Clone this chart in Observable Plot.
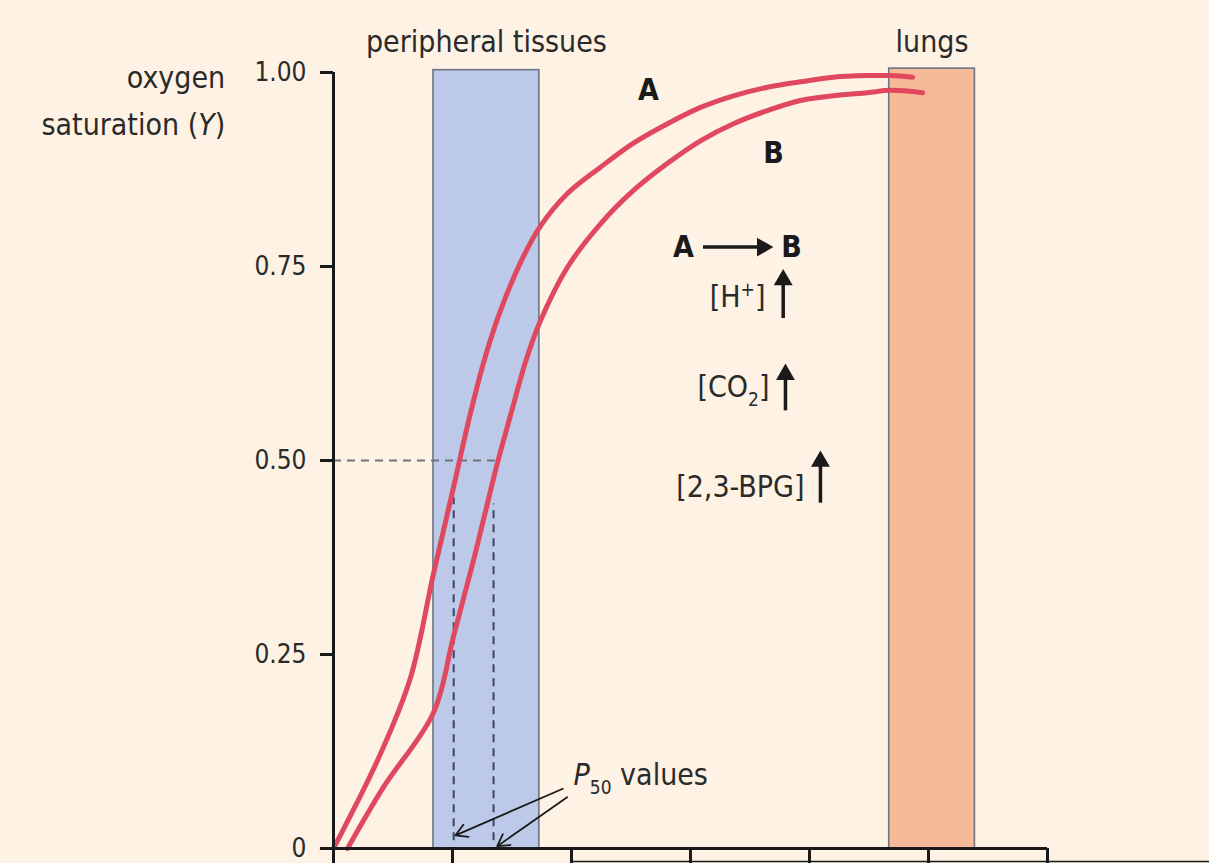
<!DOCTYPE html>
<html><head><meta charset="utf-8">
<script src="https://cdn.jsdelivr.net/npm/d3@7"></script>
<script src="https://cdn.jsdelivr.net/npm/@observablehq/plot@0.6"></script>
<style>html,body{margin:0;padding:0;background:#FDF2E3;overflow:hidden}</style>
</head><body><div id="chart"></div>
<script>
// Curve A (higher O2 affinity)
const pO2A = [0, 0.395, 0.647, 0.840, 1.008, 1.126, 1.261, 1.403, 1.571, 1.739, 1.966, 2.244, 2.521, 2.807, 3.084, 3.361, 3.647, 3.924, 4.202, 4.487, 4.681, 4.866];
const satA = [0, 0.122, 0.220, 0.354, 0.465, 0.545, 0.626, 0.693, 0.755, 0.802, 0.844, 0.878, 0.909, 0.934, 0.955, 0.970, 0.981, 0.988, 0.994, 0.996, 0.996, 0.994];
// Curve B (lower O2 affinity)
const pO2B = [0.118, 0.420, 0.840, 1.008, 1.176, 1.378, 1.487, 1.622, 1.739, 1.966, 2.244, 2.521, 2.807, 3.084, 3.361, 3.647, 3.924, 4.202, 4.487, 4.681, 4.950];
const satB = [0, 0.079, 0.175, 0.273, 0.371, 0.497, 0.558, 0.631, 0.680, 0.749, 0.805, 0.848, 0.883, 0.912, 0.934, 0.951, 0.964, 0.970, 0.974, 0.977, 0.974];

const xTicks = [0, 1, 2, 3, 4, 5, 6];
const yTicks = [0, 0.25, 0.5, 0.75, 1];
const yTickLabels = ["0", "0.25", "0.50", "0.75", "1.00"];

const regionNames = ["peripheral tissues", "lungs"];
const regionStart = [0.84, 4.67];
const regionEnd = [1.73, 5.39];
const regionTop = [1.003, 1.005];
const regionLabelY = 1.039;

const p50X = [1.01, 1.345];
const p50Top = [0.452, 0.444];
const halfSat = 0.5;
const halfSatEnd = 1.36;

const curveLabels = ["A", "B"];
const curveLabelX = [2.647, 3.697];
const curveLabelY = [0.977, 0.896];

const shiftLabels = ["A", "B"];
const shiftLabelX = [2.941, 3.849];
const shiftY = 0.775;
const shiftArrowX = [3.109, 3.697];

const factors = ["[H+]", "[CO2]", "[2,3-BPG]"];
const factorEndX = [3.630, 3.664, 3.958];
const factorY = [0.710, 0.594, 0.465];
const factorArrowX = [3.779, 3.798, 4.092];
const factorArrowY1 = [0.683, 0.564, 0.445];
const factorArrowY2 = [0.747, 0.625, 0.513];

const p50Label = {text: "P50 values", x: 2.017, y: 0.094};
const p50ArrowX1 = [1.927, 1.963];
const p50ArrowY1 = [0.077, 0.066];
const p50ArrowX2 = [1.025, 1.376];
const p50ArrowY2 = [0.017, 0.003];

const yLabelLines = ["oxygen", "saturation (Y)"];
const yLabelX = -0.91;
const yLabelY = [0.992, 0.932];

// build tables
const curves = [
  ...pO2A.map((x, i) => ({series: "A", x, y: satA[i]})),
  ...pO2B.map((x, i) => ({series: "B", x, y: satB[i]}))
];
const regions = regionNames.map((name, i) => ({name, x1: regionStart[i], x2: regionEnd[i], top: regionTop[i]}));
const p50s = p50X.map((x, i) => ({x, top: p50Top[i]}));
const curveLab = curveLabels.map((t, i) => ({t, x: curveLabelX[i], y: curveLabelY[i]}));
const shiftLab = shiftLabels.map((t, i) => ({t, x: shiftLabelX[i], y: shiftY}));
const factorRows = factors.map((t, i) => ({t, x: factorEndX[i], y: factorY[i], ax: factorArrowX[i], ay1: factorArrowY1[i], ay2: factorArrowY2[i]}));
const p50Arrows = p50ArrowX1.map((x1, i) => ({x1, y1: p50ArrowY1[i], x2: p50ArrowX2[i], y2: p50ArrowY2[i]}));
const yLab = yLabelLines.map((t, i) => ({t, y: yLabelY[i]}));

const red = "#E0485F";
const ink = "#1a1a1a";
const txt = "#2a2a2a";
const dashH = "#70737c";
const dashV = "#3e4560";
const labelSize = 30;
const headGapY = 0.012; // leave room under the filled arrow head
const headGapX = 0.09;

const plot = Plot.plot({
  width: 1209,
  height: 863,
  marginLeft: 333,
  marginRight: 162,
  marginTop: 72,
  marginBottom: 15,
  style: {background: "#FDF2E3", fontFamily: "'DejaVu Sans Condensed', 'DejaVu Sans', sans-serif", fontSize: "26px", color: ink},
  x: {domain: [0, 6], axis: null},
  y: {domain: [0, 1]},
  color: {domain: regionNames, range: ["#BCC9E8", "#F6BA98"]},
  marks: [
    Plot.rect(regions, {x1: "x1", x2: "x2", y1: 0, y2: "top", fill: "name", stroke: "#6e7480", strokeWidth: 1.6}),
    Plot.text(regions, {x: d => (d.x1 + d.x2) / 2, y: regionLabelY, text: "name", fill: txt, fontSize: labelSize}),
    Plot.ruleY([halfSat], {x1: 0, x2: halfSatEnd, stroke: dashH, strokeWidth: 2, strokeDasharray: "8,6"}),
    Plot.ruleX(p50s, {x: "x", y1: 0.01, y2: "top", stroke: dashV, strokeWidth: 2, strokeDasharray: "8,6"}),
    Plot.line(curves, {x: "x", y: "y", z: "series", stroke: red, strokeWidth: 5, curve: "catmull-rom"}),
    Plot.ruleX([0], {y1: 0, y2: 1, stroke: ink, strokeWidth: 3}),
    Plot.ruleY([0], {x1: -0.11, x2: 6, stroke: ink, strokeWidth: 3}),
    Plot.ruleX(xTicks, {x: d => d, y1: 0, y2: -0.03, stroke: ink, strokeWidth: 3}),
    Plot.ruleY([-0.0168], {x1: 2.0, x2: 7.4, stroke: ink, strokeWidth: 1.5}),
    Plot.axisY(yTicks, {tickSize: 13, tickPadding: 14, strokeWidth: 3, stroke: ink, label: null, fill: txt,
      tickFormat: d => yTickLabels[yTicks.indexOf(d)]}),
    Plot.text(yLab, {x: yLabelX, y: "y", text: "t", textAnchor: "end", fill: txt, fontSize: labelSize}),
    Plot.text(curveLab, {x: "x", y: "y", text: "t", fontWeight: "bold", fontSize: 30, fill: ink}),
    Plot.text(shiftLab, {x: "x", y: "y", text: "t", fontWeight: "bold", fontSize: 30, fill: ink}),
    // A -> B arrow: shaft + filled head
    Plot.ruleY([shiftY], {x1: shiftArrowX[0], x2: shiftArrowX[1] - headGapX, stroke: ink, strokeWidth: 3.5}),
    Plot.dot([shiftY], {x: shiftArrowX[1], y: d => d, symbol: "triangle", r: 7, fill: ink, stroke: "none", rotate: 90, dx: -11}),
    Plot.text(factorRows, {x: "x", y: "y", text: "t", textAnchor: "end", fill: txt, fontSize: labelSize}),
    // up arrows: shaft + filled head
    Plot.ruleX(factorRows, {x: "ax", y1: "ay1", y2: d => d.ay2 - headGapY, stroke: ink, strokeWidth: 3.5}),
    Plot.dot(factorRows, {x: "ax", y: "ay2", symbol: "triangle", r: 7, fill: ink, stroke: "none", dy: 11}),
    Plot.text([p50Label], {x: "x", y: "y", text: "text", textAnchor: "start", fill: txt, fontSize: labelSize}),
    Plot.arrow(p50Arrows, {x1: "x1", y1: "y1", x2: "x2", y2: "y2", stroke: ink, strokeWidth: 1.8, headLength: 11})
  ]
});

plot.querySelectorAll("text").forEach(t => {
  const s = t.textContent;
  if (s === "saturation (Y)") t.innerHTML = 'saturation (<tspan font-style="italic">Y</tspan>)';
  else if (s === "[H+]") t.innerHTML = '[H<tspan dy="-11" font-size="19">+</tspan><tspan dy="11">]</tspan>';
  else if (s === "[CO2]") t.innerHTML = '[CO<tspan dy="9" font-size="19">2</tspan><tspan dy="-9">]</tspan>';
  else if (s === "P50 values") t.innerHTML = '<tspan font-style="italic">P</tspan><tspan dy="9" font-size="19">50</tspan><tspan dy="-9"> values</tspan>';
});

document.getElementById("chart").appendChild(plot);
</script>
</body></html>
